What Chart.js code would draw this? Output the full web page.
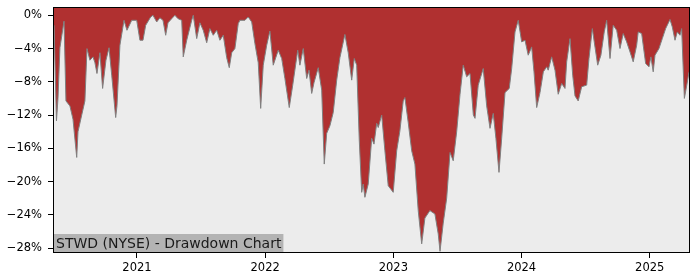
<!DOCTYPE html>
<html>
<head>
<meta charset="utf-8">
<script src="https://cdn.jsdelivr.net/npm/chart.js@4"></script>
<style>
  html, body { margin: 0; padding: 0; background: #fff; }
  #wrap { width: 700px; height: 280px; position: relative; }
</style>
</head>
<body>
<div id="wrap"><canvas id="ddChart"></canvas></div>
<script>
// dates as decimal years, drawdown in percent
const years = [
  2020.353, 2020.372, 2020.384, 2020.399, 2020.431, 2020.446, 2020.477, 2020.501, 2020.530, 2020.540,
  2020.569, 2020.594, 2020.610, 2020.633, 2020.657, 2020.672, 2020.688, 2020.711, 2020.732, 2020.758,
  2020.782, 2020.803, 2020.834, 2020.844, 2020.867, 2020.899, 2020.922, 2020.959, 2020.998, 2021.023,
  2021.047, 2021.068, 2021.107, 2021.125, 2021.154, 2021.179, 2021.203, 2021.224, 2021.242, 2021.271,
  2021.296, 2021.320, 2021.349, 2021.361, 2021.388, 2021.427, 2021.439, 2021.466, 2021.491, 2021.517,
  2021.544, 2021.569, 2021.595, 2021.622, 2021.647, 2021.673, 2021.700, 2021.720, 2021.739, 2021.764,
  2021.790, 2021.803, 2021.842, 2021.868, 2021.895, 2021.920, 2021.946, 2021.965, 2021.985, 2022.012,
  2022.037, 2022.063, 2022.102, 2022.129, 2022.154, 2022.188, 2022.215, 2022.254, 2022.271, 2022.297,
  2022.324, 2022.342, 2022.363, 2022.381, 2022.414, 2022.441, 2022.461, 2022.480, 2022.505, 2022.531,
  2022.558, 2022.583, 2022.622, 2022.648, 2022.675, 2022.695, 2022.714, 2022.734, 2022.753, 2022.765,
  2022.778, 2022.804, 2022.831, 2022.849, 2022.870, 2022.882, 2022.909, 2022.934, 2022.960, 2022.999,
  2023.026, 2023.051, 2023.077, 2023.090, 2023.116, 2023.143, 2023.168, 2023.194, 2023.221, 2023.246,
  2023.285, 2023.324, 2023.350, 2023.364, 2023.389, 2023.416, 2023.442, 2023.467, 2023.494, 2023.520,
  2023.545, 2023.572, 2023.598, 2023.624, 2023.637, 2023.662, 2023.701, 2023.728, 2023.754, 2023.779,
  2023.800, 2023.824, 2023.845, 2023.871, 2023.904, 2023.923, 2023.949, 2023.974, 2024.001, 2024.027,
  2024.052, 2024.079, 2024.097, 2024.118, 2024.144, 2024.170, 2024.196, 2024.208, 2024.235, 2024.261,
  2024.286, 2024.313, 2024.339, 2024.352, 2024.378, 2024.399, 2024.417, 2024.442, 2024.469, 2024.508,
  2024.526, 2024.552, 2024.567, 2024.594, 2024.619, 2024.645, 2024.664, 2024.690, 2024.715, 2024.742,
  2024.768, 2024.793, 2024.820, 2024.846, 2024.871, 2024.898, 2024.910, 2024.937, 2024.968, 2024.994,
  2025.009, 2025.027, 2025.041, 2025.072, 2025.098, 2025.124, 2025.158, 2025.176, 2025.197, 2025.215,
  2025.236, 2025.249, 2025.270, 2025.289, 2025.307
];
const drawdown = [
  -1.2, -12.7, -10.0, -3.9, -0.7, -10.3, -10.9, -12.5, -17.1, -14.0,
  -12.0, -10.3, -4.0, -5.4, -5.0, -5.7, -7.0, -4.5, -8.8, -5.4,
  -3.9, -7.2, -12.3, -10.9, -3.6, -0.6, -1.8, -0.6, -0.6, -3.0,
  -3.0, -1.2, -0.2, 0.0, -0.8, -0.3, -0.6, -2.4, -0.9, -0.4,
  0.0, -0.4, -0.6, -5.0, -3.0, -0.6, 0.0, -2.8, -0.9, -1.8,
  -3.3, -1.6, -2.4, -1.8, -3.0, -2.4, -5.1, -6.3, -4.5, -4.0,
  -1.0, -0.6, -0.6, -0.2, -0.8, -3.4, -5.7, -11.2, -6.0, -3.6,
  -1.9, -6.0, -4.2, -5.2, -7.6, -11.1, -8.4, -4.2, -6.0, -4.0,
  -7.6, -6.6, -9.4, -8.1, -6.3, -9.0, -17.9, -14.2, -13.3, -11.7,
  -7.8, -5.1, -2.3, -4.5, -7.8, -5.2, -6.0, -15.0, -21.3, -20.3,
  -21.9, -20.3, -14.8, -15.5, -13.0, -13.5, -12.0, -16.3, -20.5, -21.3,
  -16.3, -13.9, -10.3, -9.9, -12.9, -16.3, -17.9, -23.5, -27.5, -24.4,
  -23.5, -23.9, -26.3, -28.4, -25.0, -22.0, -16.5, -17.5, -14.0, -9.5,
  -6.0, -7.4, -7.0, -12.0, -12.4, -8.4, -6.4, -10.9, -13.6, -11.8,
  -14.8, -18.9, -14.8, -9.3, -8.8, -6.4, -2.0, -0.6, -3.2, -3.0,
  -4.8, -3.8, -6.8, -11.1, -9.3, -6.8, -6.2, -6.6, -5.0, -6.6,
  -9.5, -8.2, -8.8, -5.6, -2.8, -7.2, -9.7, -10.3, -8.6, -8.4,
  -5.2, -1.6, -3.2, -6.0, -4.8, -2.0, -0.6, -5.2, -1.2, -1.8,
  -4.0, -2.2, -3.2, -4.4, -5.6, -3.6, -2.0, -2.2, -5.8, -6.2,
  -5.0, -6.8, -4.8, -4.0, -2.8, -1.6, -0.5, -1.4, -3.0, -2.0,
  -2.4, -1.6, -10.0, -8.4, -6.8
];
const xTicks = [2021, 2022, 2023, 2024, 2025];
const yTicks = [0, -4, -8, -12, -16, -20, -24, -28];
const title = 'STWD (NYSE) - Drawdown Chart';

const points = years.map((x, i) => ({ x: x, y: drawdown[i] }));

// plot background, frame and the label box
const framePlugin = {
    id: 'frame',
    beforeDraw(chart) {
        const a = chart.chartArea;
        const ctx = chart.ctx;
        ctx.save();
        ctx.fillStyle = '#ececec';
        ctx.fillRect(a.left, a.top, a.right - a.left, a.bottom - a.top);
        ctx.restore();
    },
    afterDraw(chart) {
        const a = chart.chartArea;
        const ctx = chart.ctx;
        ctx.save();
        ctx.font = '14px "DejaVu Sans"';
        const w = ctx.measureText(title).width;
        ctx.fillStyle = '#b3b3b3';
        ctx.fillRect(a.left, a.bottom - 19, w + 5, 19);
        ctx.fillStyle = '#1a1a1a';
        ctx.textBaseline = 'alphabetic';
        ctx.fillText(title, a.left + 3, a.bottom - 5);
        ctx.strokeStyle = '#000';
        ctx.lineWidth = 1;
        ctx.strokeRect(a.left + 0.5, a.top + 0.5, a.right - a.left - 1, a.bottom - a.top - 1);
        ctx.restore();
    }
};

const ctx = document.getElementById('ddChart').getContext('2d');
new Chart(ctx, {
    type: 'line',
    data: {
        datasets: [{
            data: points,
            borderColor: '#808080',
            borderWidth: 1,
            backgroundColor: '#b03030',
            fill: 'end',
            pointRadius: 0,
            tension: 0
        }]
    },
    options: {
        responsive: true,
        maintainAspectRatio: false,
        animation: false,
        events: [],
        layout: { padding: { top: 7, right: 10, left: 0, bottom: 0 } },
        plugins: { legend: { display: false }, tooltip: { enabled: false } },
        scales: {
            x: {
                type: 'linear',
                min: 2020.345,
                max: 2025.314,
                afterBuildTicks: s => { s.ticks = xTicks.map(v => ({ value: v })); },
                afterFit: s => { s.height = 27; s.paddingLeft = 0; s.paddingRight = 0; },
                grid: { drawOnChartArea: false, drawTicks: true, tickLength: 5, color: '#000' },
                border: { display: false },
                ticks: {
                    color: '#000',
                    padding: 3,
                    maxRotation: 0,
                    font: { family: 'DejaVu Sans', size: 11.5 },
                    callback: v => String(v)
                }
            },
            y: {
                type: 'linear',
                min: -28.6,
                max: 1.0,
                afterBuildTicks: s => { s.ticks = yTicks.map(v => ({ value: v })); },
                afterFit: s => { s.width = 53; s.paddingTop = 0; s.paddingBottom = 0; },
                grid: { drawOnChartArea: false, drawTicks: true, tickLength: 5, color: '#000' },
                border: { display: false },
                ticks: {
                    color: '#000',
                    padding: 6,
                    font: { family: 'DejaVu Sans', size: 11.5 },
                    callback: v => (v < 0 ? '\u2212' + Math.abs(v) : v) + '%'
                }
            }
        }
    },
    plugins: [framePlugin]
});
</script>
</body>
</html>
